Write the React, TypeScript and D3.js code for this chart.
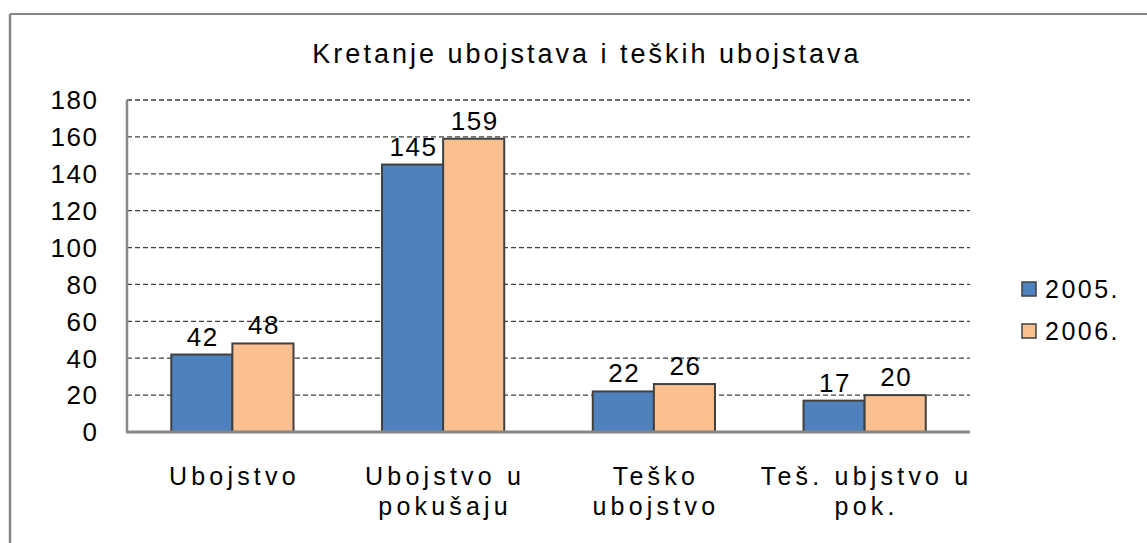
import React from 'react';
import * as d3 from 'd3';

const categories: string[][] = [
  ['Ubojstvo'],
  ['Ubojstvo u', 'pokušaju'],
  ['Teško', 'ubojstvo'],
  ['Teš. ubjstvo u', 'pok.'],
];
const seriesNames = ['2005.', '2006.'];
const values2005 = [42, 145, 22, 17];
const values2006 = [48, 159, 26, 20];
const yTicks = [0, 20, 40, 60, 80, 100, 120, 140, 160, 180];
const title = 'Kretanje ubojstava i teških ubojstava';

const colors = ['#4F81BD', '#FAC090'];
const FONT = '"Liberation Sans", Arial, sans-serif';

export default function App() {
  const W = 1147, H = 543;
  const x0 = 127, x1 = 970, yTop = 100, yBot = 432;
  const y = d3.scaleLinear().domain([0, 180]).range([yBot, yTop]);
  const xBand = d3.scaleBand().domain(d3.range(categories.length).map(String)).range([x0, x1]).paddingInner(0.42).paddingOuter(0.21);
  const inner = d3.scaleBand().domain(['0', '1']).range([0, xBand.bandwidth()]);
  const series = [values2005, values2006];

  return (
    <svg width={W} height={H} style={{ position: 'absolute', left: 0, top: 0, background: '#fff' }} fontFamily={FONT}>
      {/* outer frame */}
      <line x1={10} y1={14} x2={W} y2={14} stroke="#868686" strokeWidth={2} />
      <line x1={10} y1={14} x2={10} y2={H} stroke="#868686" strokeWidth={2.5} />
      <text x={587} y={63} textAnchor="middle" fontSize={27} letterSpacing={3} fill="#000">{title}</text>
      {/* gridlines */}
      {yTicks.filter(t => t > 0).map(t => (
        <line key={t} x1={x0} x2={x1} y1={y(t)} y2={y(t)} stroke="#404040" strokeWidth={1.3} strokeDasharray="5,3" />
      ))}
      {/* tick labels */}
      {yTicks.map(t => (
        <text key={t} x={98.5} y={y(t)} dy="0.36em" textAnchor="end" fontSize={26} letterSpacing={1.5} fill="#000">{t}</text>
      ))}
      {/* bars */}
      {categories.map((c, i) => (
        <g key={i} transform={`translate(${xBand(String(i))},0)`}>
          {series.map((s, k) => (
            <g key={k}>
              <rect x={inner(String(k))} y={y(s[i])} width={inner.bandwidth()} height={yBot - y(s[i])} fill={colors[k]} stroke="#404040" strokeWidth={2} />
              <text x={(inner(String(k)) as number) + inner.bandwidth() / 2 + 1} y={y(s[i]) - 9} textAnchor="middle" fontSize={26} letterSpacing={1.5} fill="#000">{s[i]}</text>
            </g>
          ))}
        </g>
      ))}
      {/* axes */}
      <line x1={x0} x2={x0} y1={yTop} y2={yBot} stroke="#868686" strokeWidth={2.5} />
      <line x1={x0 - 1} x2={x1} y1={yBot} y2={yBot} stroke="#868686" strokeWidth={3} />
      {/* category labels */}
      {categories.map((c, i) => (
        <text key={i} textAnchor="middle" fontSize={25} letterSpacing={4.2} fill="#000">
          {c.map((line, j) => (
            <tspan key={j} x={(xBand(String(i)) as number) + xBand.bandwidth() / 2 + 2} y={485 + j * 30}>{line}</tspan>
          ))}
        </text>
      ))}
      {/* legend */}
      {seriesNames.map((n, k) => (
        <g key={n}>
          <rect x={1022} y={282 + k * 42} width={14} height={14} fill={colors[k]} stroke="#404040" strokeWidth={1.5} />
          <text x={1045} y={298 + k * 42} fontSize={25} letterSpacing={2.5} fill="#000">{n}</text>
        </g>
      ))}
    </svg>
  );
}
